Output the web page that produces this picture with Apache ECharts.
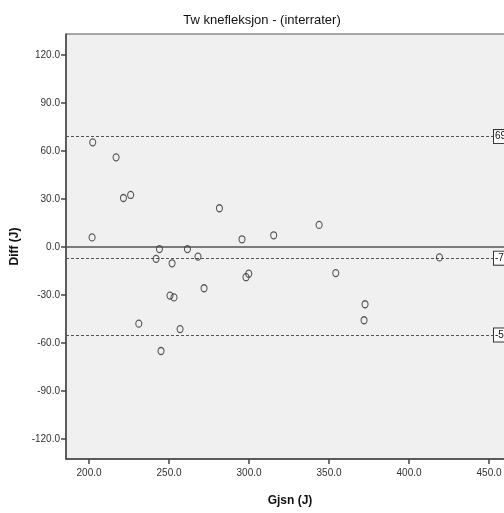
<!DOCTYPE html>
<html>
<head>
<meta charset="utf-8">
<script src="https://cdn.jsdelivr.net/npm/echarts@6/dist/echarts.min.js"></script>
<style>
  html, body { margin: 0; padding: 0; background: #fff; overflow: hidden; }
  /* litt bredere enn vinduet: plottet er avskåret til høyre i originalen */
  #chart { width: 514px; height: 513px; }
</style>
</head>
<body>
<div id="chart"></div>
<script>
// gjennomsnitt (x) og differanse (y) per forsøksperson
var gjsn = [202.3, 216.9, 221.5, 226.0, 281.5, 201.9, 244.0, 261.5, 241.9, 268.1,
  251.9, 299.8, 298.1, 271.9, 250.6, 253.1, 231.1, 256.9, 245.0, 295.6,
  315.4, 343.8, 354.2, 419.0, 372.5, 371.9];
var diff = [65.4, 56.0, 30.6, 32.5, 24.2, 6.0, -1.3, -1.3, -7.4, -6.0,
  -10.2, -16.7, -18.9, -25.8, -30.4, -31.5, -47.9, -51.3, -65.0, 4.8,
  7.3, 13.8, -16.3, -6.5, -35.8, -45.8];

// referanselinjer (øvre grense, snitt, nedre grense)
var refValues = [69, -7, -55];
var refLabels = ["69", "-7", "-55"];

var xTicks = [200, 250, 300, 350, 400, 450];
var yTicks = [-120, -90, -60, -30, 0, 30, 60, 90, 120];

var labelFont = "'Liberation Sans Narrow', 'Liberation Sans', Arial, sans-serif";
var mainFont = "'Liberation Sans', Arial, sans-serif";

var points = gjsn.map(function (x, i) {
  return [x, diff[i]];
});

// stiplede linjer med etikett i boks ved høyre ende
var refLines = refValues.map(function (v, i) {
  return [
    { xAxis: 185.6, yAxis: v },
    {
      xAxis: 453.1,
      yAxis: v,
      label: {
        show: true,
        position: "end",
        distance: 0,
        formatter: refLabels[i],
        color: "#111",
        fontSize: 10,
        fontFamily: mainFont,
        backgroundColor: "#fff",
        borderColor: "#333",
        borderWidth: 1,
        padding: [2, 2, 1, 1],
      },
    },
  ];
});

var myChart = echarts.init(document.getElementById("chart"));
myChart.setOption({
  backgroundColor: "#fff",
  animation: false,
  title: {
    text: "Tw knefleksjon - (interrater)",
    left: 257,
    textAlign: "center",
    top: 9,
    textStyle: {
      fontFamily: mainFont,
      fontSize: 13,
      fontWeight: "normal",
      color: "#111",
    },
  },
  grid: {
    left: 66,
    right: 0,
    top: 34,
    bottom: 54,
    show: true,
    backgroundColor: "#f0f0f0",
    borderColor: "#555",
    borderWidth: 1,
  },
  xAxis: {
    type: "value",
    min: 185.6,
    max: 465.6,
    name: "Gjsn (J)",
    nameLocation: "middle",
    nameGap: 36,
    nameTextStyle: {
      fontFamily: mainFont,
      fontSize: 12,
      fontWeight: "bold",
      color: "#111",
    },
    axisLine: { onZero: false, lineStyle: { color: "#444", width: 1.5 } },
    axisTick: {
      show: true,
      length: 5,
      customValues: xTicks,
      lineStyle: { color: "#444", width: 1.5 },
    },
    axisLabel: {
      customValues: xTicks,
      margin: 9,
      fontFamily: labelFont,
      fontSize: 10,
      color: "#333",
      formatter: function (v) {
        return v.toFixed(1);
      },
    },
    splitLine: { show: false },
  },
  yAxis: {
    type: "value",
    min: -132.5,
    max: 133.1,
    name: "Diff (J)",
    nameLocation: "middle",
    nameGap: 38,
    nameTextStyle: {
      fontFamily: mainFont,
      fontSize: 12,
      fontWeight: "bold",
      color: "#111",
    },
    axisLine: { show: true, onZero: false, lineStyle: { color: "#444", width: 1.5 } },
    axisTick: {
      show: true,
      length: 5,
      customValues: yTicks,
      lineStyle: { color: "#444", width: 1.5 },
    },
    axisLabel: {
      customValues: yTicks,
      margin: 6,
      fontFamily: labelFont,
      fontSize: 10,
      color: "#333",
      formatter: function (v) {
        return v.toFixed(1);
      },
    },
    splitLine: { show: false },
  },
  series: [
    {
      name: "Diff",
      type: "scatter",
      data: points,
      symbol: "circle",
      symbolSize: [6, 7],
      itemStyle: {
        color: "rgba(0,0,0,0)",
        borderColor: "#333",
        borderWidth: 1.2,
      },
      z: 5,
      markLine: {
        silent: true,
        symbol: "none",
        label: { show: false },
        lineStyle: { color: "#555", type: [3, 2], width: 1 },
        data: refLines,
      },
    },
    {
      // nullinje
      name: "null",
      type: "scatter",
      data: [],
      markLine: {
        silent: true,
        symbol: "none",
        label: { show: false },
        lineStyle: { color: "#555", type: "solid", width: 1.5 },
        data: [{ yAxis: 0 }],
      },
    },
  ],
});
</script>
</body>
</html>
